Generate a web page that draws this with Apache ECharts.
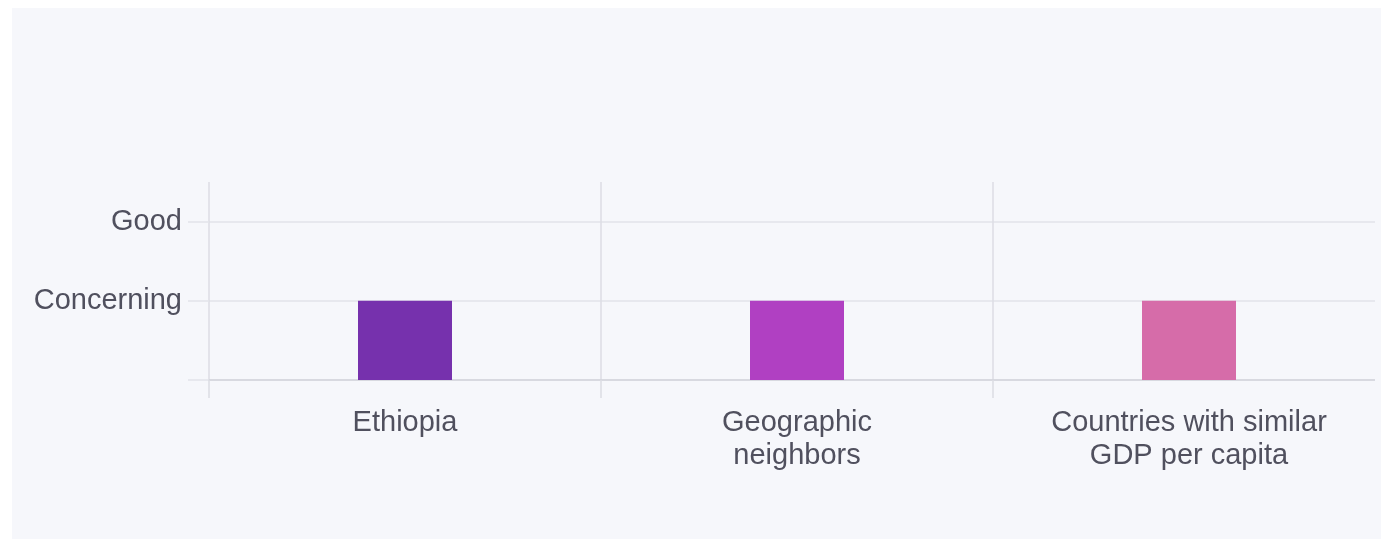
<!DOCTYPE html>
<html>
<head>
<meta charset="utf-8">
<script src="https://cdn.jsdelivr.net/npm/echarts@6/dist/echarts.min.js"></script>
<style>
  html, body { margin: 0; padding: 0; background: #ffffff; }
  #panel { position: absolute; left: 12px; top: 8px; width: 1369px; height: 531px; background: #f6f7fb; }
  #clip { position: absolute; left: 0; top: 0; width: 1363px; height: 531px; overflow: hidden; }
  #chart { position: absolute; left: 0; top: 0; width: 1373px; height: 531px; }
</style>
</head>
<body>
<div id="panel"><div id="clip"><div id="chart"></div></div></div>
<script>
// categories and values (1 = Concerning, 2 = Good)
const categories = ['Ethiopia', 'Geographic\nneighbors', 'Countries with similar\nGDP per capita'];
const scores = [1, 1, 1];
const barColors = ['#7631ad', '#b040c2', '#d66ca9'];
const levelTicks = [0, 1, 2];
const levelLabels = { 1: 'Concerning', 2: 'Good' };

const chart = echarts.init(document.getElementById('chart'));

const option = {
  animation: false,
  grid: { left: 197, top: 174, right: 0, bottom: 159 },
  xAxis: {
    type: 'category',
    data: categories,
    axisLine: { show: true, lineStyle: { color: '#d2d3db', width: 1.5 } },
    axisTick: { show: true, length: 18, lineStyle: { color: '#dcdde4', width: 1.5 } },
    splitLine: { show: true, lineStyle: { color: '#dcdde4', width: 1.5 } },
    axisLabel: {
      margin: 26,
      color: '#50505e',
      fontFamily: 'Liberation Sans, Arial, sans-serif',
      fontSize: 29,
      lineHeight: 33
    }
  },
  yAxis: {
    type: 'value',
    min: 0,
    max: 2.5,
    interval: 1,
    axisLine: { show: false },
    axisTick: { show: true, length: 21, customValues: levelTicks, lineStyle: { color: '#e2e3ea', width: 1.5 } },
    splitLine: { show: true, lineStyle: { color: '#e2e3ea', width: 1.5 } },
    axisLabel: {
      margin: 27,
      color: '#50505e',
      fontFamily: 'Liberation Sans, Arial, sans-serif',
      fontSize: 29,
      customValues: [1, 2],
      formatter: v => levelLabels[v] || ''
    }
  },
  series: [{
    type: 'bar',
    barWidth: 94,
    data: scores.map((v, i) => ({ value: v, itemStyle: { color: barColors[i] } }))
  }]
};

chart.setOption(option);
</script>
</body>
</html>
